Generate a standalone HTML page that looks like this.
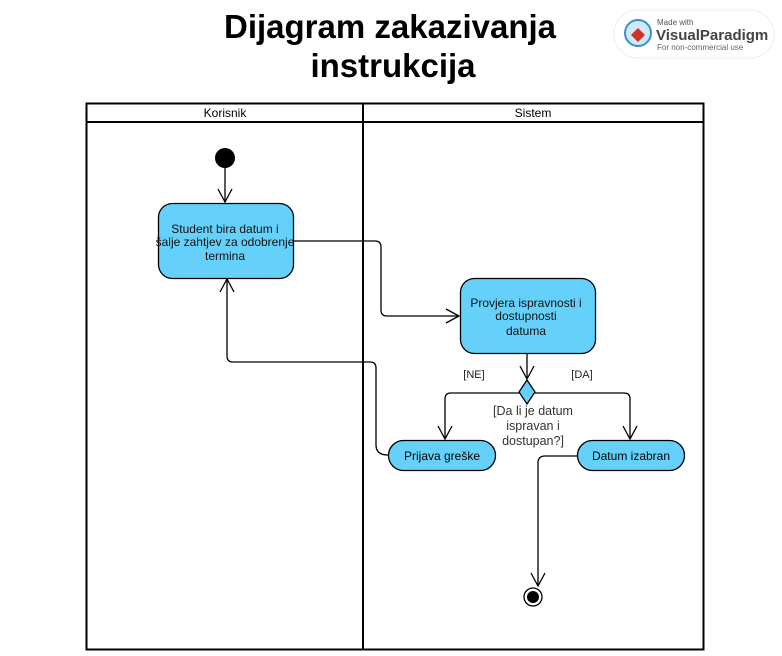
<!DOCTYPE html>
<html><head><style>
body{margin:0;background:#fff;width:782px;height:651px;overflow:hidden;font-family:"Liberation Sans",sans-serif}
</style></head><body>
<svg width="782" height="651" viewBox="0 0 782 651" xmlns="http://www.w3.org/2000/svg" font-family="Liberation Sans, sans-serif">
<text x="390" y="38" text-anchor="middle" font-size="33" font-weight="bold" fill="#000">Dijagram zakazivanja</text>
<text x="393" y="77" text-anchor="middle" font-size="33" font-weight="bold" fill="#000">instrukcija</text>
<rect x="614" y="10" width="160" height="48" rx="24" fill="#fff" stroke="#eee"/>
<circle cx="638" cy="33" r="13" fill="#cfe8f7" stroke="#3a8fd0" stroke-width="2"/>
<path d="M638 28 l7 7 -7 7 -7 -7z" fill="#d3302a"/>
<text x="657" y="25" font-size="8" fill="#555">Made with</text>
<text x="656" y="40" font-size="15" font-weight="bold" fill="#444">VisualParadigm</text>
<text x="657" y="50" font-size="8" fill="#666">For non-commercial use</text>
<rect x="86.5" y="103.5" width="617" height="546" fill="none" stroke="#000" stroke-width="2"/>
<line x1="86" y1="122" x2="704" y2="122" stroke="#000" stroke-width="2"/>
<line x1="363" y1="103" x2="363" y2="650" stroke="#000" stroke-width="2"/>
<text x="225" y="117" text-anchor="middle" font-size="12">Korisnik</text>
<text x="533" y="117" text-anchor="middle" font-size="12">Sistem</text>
<g fill="none" stroke="#000" stroke-width="1.3">
<line x1="225" y1="168" x2="225" y2="202"/><path d="M218 189 L225 202 L232 189"/>
<path d="M293 241 H375 Q381 241 381 247 V310 Q381 316 387 316 H459"/><path d="M446 309 L459 316 L446 323"/>
<line x1="527" y1="353" x2="527" y2="379"/><path d="M520 366 L527 379 L534 366"/>
<path d="M519 393 H451 Q445 393 445 399 V439"/><path d="M438 426 L445 439 L452 426"/>
<path d="M535 393 H624 Q630 393 630 399 V439"/><path d="M623 426 L630 439 L637 426"/>
<path d="M388 455 Q376 455 376 445 V368 Q376 362 370 362 H233 Q227 362 227 356 V279"/><path d="M220 292 L227 279 L234 292"/>
<path d="M577 456 H545 Q538 456 538 463 V586"/><path d="M531 573 L538 586 L545 573"/>
</g>
<circle cx="225" cy="158" r="10" fill="#000"/>
<rect x="158.5" y="203.5" width="135" height="75" rx="14" fill="#65d1fa" stroke="#000" stroke-width="1.3"/>
<g font-size="12" text-anchor="middle" fill="#111">
<text x="225" y="233">Student bira datum i</text>
<text x="225" y="246">šalje zahtjev za odobrenje</text>
<text x="225" y="260">termina</text>
</g>
<rect x="460.5" y="278.5" width="135" height="75" rx="14" fill="#65d1fa" stroke="#000" stroke-width="1.3"/>
<g font-size="12" text-anchor="middle" fill="#111">
<text x="526" y="307">Provjera ispravnosti i</text>
<text x="526" y="320">dostupnosti</text>
<text x="526" y="335">datuma</text>
</g>
<path d="M527 380 L535 392 L527 404 L519 392Z" fill="#65d1fa" stroke="#000" stroke-width="1.3"/>
<g font-size="11" text-anchor="middle" fill="#222">
<text x="474" y="378">[NE]</text>
<text x="582" y="378">[DA]</text>
</g>
<g font-size="12.5" text-anchor="middle" fill="#333">
<text x="533" y="415">[Da li je datum</text>
<text x="533" y="430">ispravan i</text>
<text x="533" y="445">dostupan?]</text>
</g>
<rect x="388.5" y="440.5" width="107" height="30" rx="15" fill="#65d1fa" stroke="#000" stroke-width="1.3"/>
<text x="442" y="460" font-size="12" text-anchor="middle">Prijava greške</text>
<rect x="577.5" y="440.5" width="107" height="30" rx="15" fill="#65d1fa" stroke="#000" stroke-width="1.3"/>
<text x="631" y="460" font-size="12" text-anchor="middle">Datum izabran</text>
<circle cx="533" cy="597" r="9" fill="#fff" stroke="#000" stroke-width="1.3"/>
<circle cx="533" cy="597" r="6" fill="#000"/>
</svg>
</body></html>
